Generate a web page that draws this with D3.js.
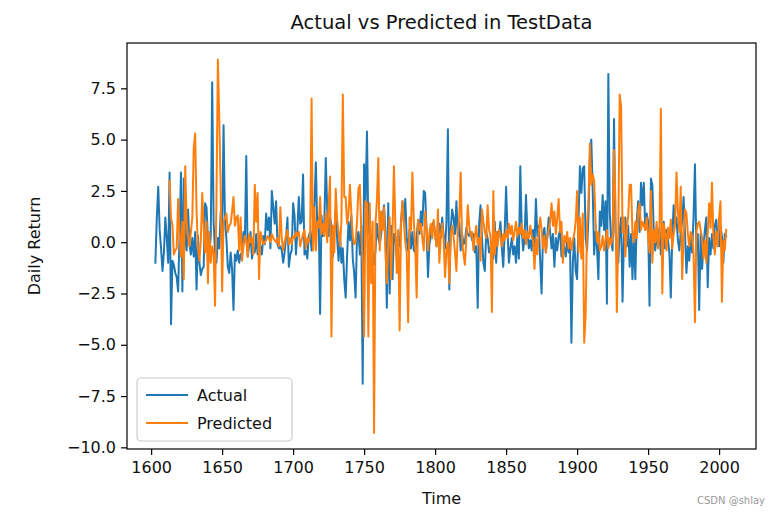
<!DOCTYPE html>
<html><head><meta charset="utf-8">
<script src="https://cdn.jsdelivr.net/npm/d3@7"></script>
<style>body{margin:0;background:#fff;} text{font-family:"DejaVu Sans", sans-serif;}</style>
</head><body><svg id="c" width="779" height="516"></svg>
<script>
const startActual = 1603;
const startPredicted = 1613;
const actual = [
-1.0, 1.2, 2.7, 0.6, -0.3, -1.4, -0.5, 1.2, 0.2, -1.0,
3.4, -4.0, -0.9, -1.1, -1.5, -1.7, -2.4, 0.3, 3.4, -2.4,
3.1, 0.1, -0.4, 1.6, -0.1, -0.6, 0.2, -0.7, 0.5, -2.3,
0.3, -1.0, -1.6, -1.3, -1.2, 1.9, 1.7, 0.2, -0.5, 0.3,
7.8, 1.0, -0.5, -1.0, 0.2, -0.3, 1.5, 0.5, 5.7, 1.0,
0.2, -1.2, -1.5, -0.5, -1.3, -3.3, -0.6, -0.9, -0.4, -1.0,
-0.6, -0.5, 0.5, 0.0, 4.2, -0.7, -0.2, 0.5, -0.8, -0.3,
-0.5, 0.4, -0.6, -0.4, -0.2, -0.6, 0.3, -0.1, 1.4, 0.6,
1.2, -0.3, 2.5, 1.7, 0.9, 2.0, -0.1, -0.3, -0.2, -0.4,
-1.0, -0.5, 0.2, 1.2, -1.2, -0.6, -0.4, 1.9, 1.3, -0.6,
0.6, 2.2, 0.9, 1.0, 3.3, -0.6, -0.4, -0.8, 0.3, 0.5,
-0.4, 0.9, 1.8, 3.9, 0.7, 1.2, -3.5, 1.3, 0.3, 1.0,
4.1, 1.6, 0.3, 1.2, 0.8, -0.7, 0.5, 1.6, 0.2, -0.9,
0.4, -1.0, -0.3, -1.8, -2.7, -0.7, 1.0, 0.1, 1.3, -0.8,
-1.5, -2.7, 0.3, 0.5, -0.6, 0.8, -6.9, 3.8, 2.0, 5.4,
0.6, 0.3, 0.1, -0.6, -1.1, -0.4, 0.9, 0.2, -0.1, 0.4,
1.2, 1.8, 0.6, -3.2, 1.9, -2.5, 0.8, -1.8, 0.4, 0.3,
-0.7, 0.1, -0.2, 1.0, 2.0, 1.0, 2.1, 0.2, -0.4, 0.6,
-0.3, 0.5, -0.4, -0.5, 0.2, 1.1, 0.4, 1.5, 0.8, 2.5,
2.4, 0.5, -1.7, -0.1, 0.3, 0.8, 1.0, 0.4, -0.2, 0.6,
0.9, 0.2, 1.2, 0.3, -0.3, 1.0, 5.5, -2.3, 0.6, 1.6,
1.2, 0.4, 2.0, 0.3, 1.0, -0.4, 0.4, -0.1, 0.0, 0.7,
0.4, 0.3, 0.5, 0.1, 0.4, -0.5, -0.2, -3.2, 0.9, 1.8,
0.2, -1.0, -1.4, 0.5, 0.2, -0.5, -0.3, 0.0, -0.8, 1.0,
-1.0, 0.5, 0.3, 1.0, -0.3, -1.2, 0.5, 2.7, 0.5, -1.0,
-0.3, 0.2, -0.6, -0.2, -1.0, 0.4, -0.8, 3.7, 0.6, -0.4,
0.2, 2.3, 0.5, -0.3, 0.1, -0.4, 0.6, -0.2, 2.1, 0.3,
0.8, -0.9, -2.5, 0.4, 0.7, -0.5, 0.3, 1.2, 0.5, -0.3,
0.4, -1.2, 0.2, -0.4, 0.3, 0.6, -0.7, 0.1, -0.3, -0.7,
0.2, -0.5, 0.0, -4.9, -1.0, 0.2, -1.4, -1.8, 1.0, 3.7,
2.4, 3.6, 3.7, 0.2, -0.4, 1.2, 4.2, 5.0, 2.5, -0.6,
0.5, -0.2, -1.8, 1.5, 0.8, 2.3, 0.6, 2.0, -3.0, 8.2,
1.5, 0.0, -0.4, 6.0, 0.5, -0.3, -1.0, 0.6, 1.2, -2.9,
0.3, 1.2, -0.2, 0.8, -1.2, 0.4, -1.8, 0.5, -1.8, 1.0,
2.0, 0.5, 2.9, 1.8, 2.9, 0.6, 1.4, 1.0, -3.1, 3.1,
2.8, 0.5, -0.4, 0.3, -0.2, 0.7, -0.6, 0.2, 1.0, -0.3,
0.6, 0.1, -0.5, -2.7, 0.2, 1.8, 0.8, 1.2, 0.1, -0.4,
0.5, 1.0, 2.2, 0.4, -1.5, -0.2, -0.9, 0.3, -0.5, 1.2,
3.8, -0.3, 0.4, -3.3, 0.4, -1.3, -0.2, 0.6, 1.2, -2.2,
0.2, -0.6, 0.4, -0.3, 0.8, 1.1, 0.2, -0.2, 0.8, 0.3,
-1.0, 0.4, 0.3
];
const predicted = [
3.0, 1.2, 0.8, -0.6, -0.4, -0.3, 2.1, 0.4, -0.7, 1.0,
-1.8, 3.7, 1.0, 0.3, -0.2, 0.5, 1.2, 4.6, 5.3, 1.5,
-0.3, -0.9, 0.1, 2.4, 0.8, -0.5, 1.0, -2.0, 0.5, -1.0,
-0.2, -0.5, -3.1, 2.0, 8.9, 6.0, 2.5, -2.4, 1.0, 1.2,
1.4, 0.5, 0.8, 0.9, 1.5, 2.2, 0.8, 1.2, 1.3, -0.4,
1.2, -0.9, -0.2, 0.3, 0.1, -0.7, 0.4, 0.0, 0.2, -0.6,
2.8, 1.0, 2.4, -1.8, 0.5, 0.2, -0.1, 0.0, 0.1, 0.3,
0.2, 0.0, 0.4, 0.2, 0.1, 0.0, 0.2, -0.2, 1.7, 0.2,
-0.4, 0.0, 0.3, 0.6, -0.1, 0.2, -0.1, 0.3, 0.2, 0.5,
0.3, 0.5, -0.2, 0.1, 0.4, 0.6, -0.3, 0.2, 0.0, 0.4,
7.0, -0.4, 1.7, -0.4, 1.0, 0.7, 2.2, 0.4, 0.9, 0.3,
1.4, 0.0, 1.8, 3.2, -4.6, 0.8, -0.5, 2.6, 1.1, 0.5,
-0.2, 1.0, 7.2, 2.2, 2.2, 0.9, 1.4, 2.8, 1.4, 0.3,
-0.1, 0.0, 1.0, 2.6, 2.8, 0.5, -1.0, -4.6, 2.0, 1.9,
-4.6, 1.9, -2.0, 1.0, -9.3, 0.9, 2.0, 4.1, -0.4, 1.5,
0.6, 1.7, -0.4, -2.0, 0.0, 1.2, -1.8, 0.5, 3.7, 0.8,
-1.5, 0.6, -4.3, 0.8, 2.0, 1.0, 0.0, -0.5, -3.9, 1.2,
0.6, 3.4, 1.0, -0.2, -2.7, 1.1, 0.6, 0.9, 0.2, -0.4,
1.5, 0.6, -0.4, 0.5, 0.9, 0.2, 1.1, 0.4, -0.2, 1.6,
-1.0, 0.3, 0.9, 0.2, -1.7, -0.4, 0.0, -2.0, 0.4, 0.8,
0.3, -0.5, -1.4, 0.5, 1.2, 3.4, 0.1, -0.6, -1.1, 0.2,
1.8, 0.8, 0.3, 0.5, -0.4, 0.3, 0.8, -0.1, 0.2, -0.9,
1.6, 1.0, 0.5, 0.2, 1.8, 0.6, 0.3, -3.4, 2.5, -0.6,
0.5, -0.2, 0.6, 0.3, -0.2, 0.4, 0.1, 0.6, 0.2, 0.9,
0.4, 0.8, 0.1, 0.5, 1.0, 0.3, 0.7, 0.4, 0.9, 0.2,
0.6, -0.1, 0.5, 0.2, 0.8, 0.3, 0.1, -1.3, 0.2, -0.6,
0.5, 1.2, 0.6, -0.3, 0.3, -0.5, 0.2, 0.6, 1.0, 1.9,
0.8, 1.5, 0.4, 1.2, 2.1, 0.5, 1.0, -1.0, 0.3, 0.0,
0.5, -0.3, 0.2, -0.4, 0.1, 0.4, 1.0, 2.5, -0.5, 1.2,
-0.8, 1.4, -4.9, -3.6, 0.8, 2.0, 4.8, 2.8, 3.3, 3.0,
1.0, 0.0, 0.5, -0.4, -0.2, 0.3, -0.4, 0.1, 0.6, -0.3,
0.2, -0.1, 0.3, 4.5, 2.0, -3.4, 0.5, 7.2, 6.6, 0.5,
1.2, -0.7, 0.6, 1.3, 2.8, 2.8, 0.4, 0.0, 1.0, 0.2,
1.5, 1.9, 0.6, 1.0, 0.8, 0.6, 1.2, 0.3, -0.5, 2.5,
-1.0, 0.6, 0.0, 1.0, -0.3, 0.3, 6.5, -2.5, 0.9, 0.5,
-0.4, 0.7, 0.2, 1.1, -0.3, 0.4, 0.8, 3.4, 1.5, 0.5,
2.7, -1.8, 0.3, 1.6, 1.4, 0.4, -0.2, 0.5, 0.3, -0.5,
-3.9, 0.5, 0.9, 1.0, 0.6, 0.2, -0.8, 0.1, -1.0, 0.4,
1.9, 0.7, 2.9, 0.3, -0.6, 0.5, -0.2, 1.2, 2.0, -2.9,
0.1, -0.4, 0.6
];
const seriesNames = ["Actual", "Predicted"];
const seriesColors = ["#1f77b4", "#ff7f0e"];
const xTicks = [1600, 1650, 1700, 1750, 1800, 1850, 1900, 1950, 2000];
const yTicks = [-10, -7.5, -5, -2.5, 0, 2.5, 5, 7.5];

const W = 779, H = 516;
const L = 127, R = 756, T = 43, B = 449;
const svg = d3.select("#c");
svg.append("rect").attr("width", W).attr("height", H).attr("fill", "#fff");

const x = d3.scaleLinear().domain([1583, 2026]).range([L, R]);
const y = d3.scaleLinear().domain([-10.08, 9.71]).range([B, T]);

const fmt = v => d3.format(".1f")(v).replace("-", "\u2212");

const gx = svg.append("g").attr("transform", `translate(0,${B})`)
  .call(d3.axisBottom(x).tickValues(xTicks).tickFormat(d3.format("d")).tickSize(6).tickPadding(7));
const gy = svg.append("g").attr("transform", `translate(${L},0)`)
  .call(d3.axisLeft(y).tickValues(yTicks).tickFormat(fmt).tickSize(6).tickPadding(5));
[gx, gy].forEach(g => {
  g.select(".domain").remove();
  g.selectAll(".tick line").attr("stroke", "#000").attr("stroke-width", 1.2);
  g.selectAll(".tick text").attr("fill", "#111").style("font-size", "16px").style("font-family", "DejaVu Sans");
});

const line = d3.line().x(d => x(d.t)).y(d => y(d.v)).curve(d3.curveLinear);
const clip = svg.append("clipPath").attr("id", "clip").append("rect")
  .attr("x", L).attr("y", T).attr("width", R - L).attr("height", B - T);
const dataA = actual.map((v, i) => ({t: startActual + i, v}));
const dataP = predicted.map((v, i) => ({t: startPredicted + i, v}));
const plot = svg.append("g").attr("clip-path", "url(#clip)");
[dataA, dataP].forEach((d, k) => {
  plot.append("path").datum(d).attr("d", line).attr("fill", "none")
    .attr("stroke", seriesColors[k]).attr("stroke-width", 2)
    .attr("stroke-linejoin", "round").attr("stroke-linecap", "square");
});

svg.append("rect").attr("x", L).attr("y", T).attr("width", R - L).attr("height", B - T)
  .attr("fill", "none").attr("stroke", "#000").attr("stroke-width", 1.2);

svg.append("text").attr("x", (L + R) / 2).attr("y", 29).attr("text-anchor", "middle")
  .style("font-size", "19.5px").attr("fill", "#111").text("Actual vs Predicted in TestData");
svg.append("text").attr("x", (L + R) / 2).attr("y", 504).attr("text-anchor", "middle")
  .style("font-size", "16px").attr("fill", "#111").text("Time");
svg.append("text").attr("transform", `translate(40,${(T + B) / 2}) rotate(-90)`).attr("text-anchor", "middle")
  .style("font-size", "16px").attr("fill", "#111").text("Daily Return");

// legend
const lg = svg.append("g");
lg.append("rect").attr("x", 137).attr("y", 378).attr("width", 155).attr("height", 63)
  .attr("rx", 4).attr("fill", "#fff").attr("fill-opacity", 0.8).attr("stroke", "#ccc").attr("stroke-width", 1.2);
seriesNames.forEach((n, k) => {
  const cy = 395 + k * 28;
  lg.append("line").attr("x1", 146).attr("x2", 188).attr("y1", cy).attr("y2", cy)
    .attr("stroke", seriesColors[k]).attr("stroke-width", 2);
  lg.append("text").attr("x", 197).attr("y", cy + 6).style("font-size", "16px").attr("fill", "#111").text(n);
});

svg.append("text").attr("x", 765).attr("y", 504).attr("text-anchor", "end")
  .style("font-size", "10px").attr("fill", "#999").text("CSDN @shlay");
</script></body></html>
